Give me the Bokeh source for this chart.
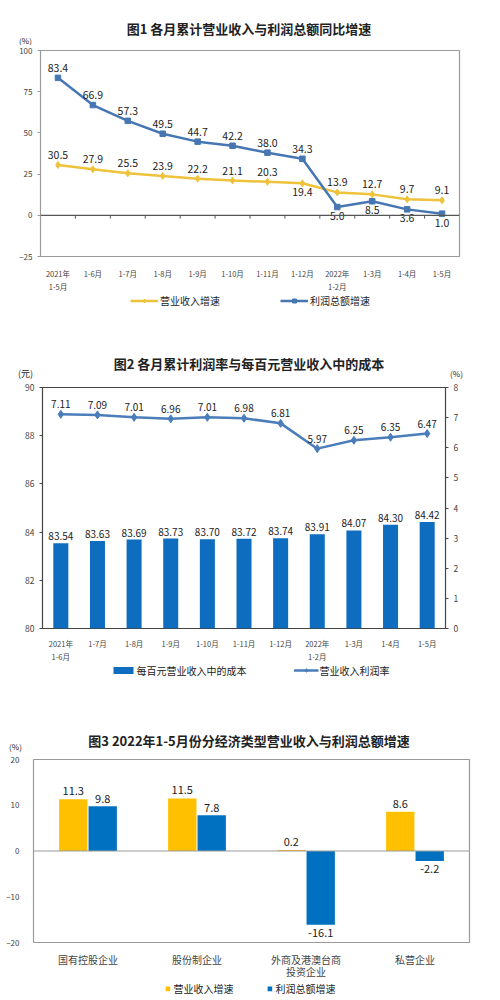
from bokeh.plotting import figure
from bokeh.models import (ColumnDataSource, Range1d, LinearAxis, FixedTicker,
                          Legend, LegendItem, Label, Span)
from bokeh.embed import file_html
from bokeh.resources import INLINE
from bokeh.core.properties import value

FONT = "Noto Sans CJK SC"

# ---------------- data ----------------
f1_periods = ["2021年\n1-5月", "1-6月", "1-7月", "1-8月", "1-9月", "1-10月", "1-11月",
              "1-12月", "2022年\n1-2月", "1-3月", "1-4月", "1-5月"]
f1_revenue = [30.5, 27.9, 25.5, 23.9, 22.2, 21.1, 20.3, 19.4, 13.9, 12.7, 9.7, 9.1]
f1_profit = [83.4, 66.9, 57.3, 49.5, 44.7, 42.2, 38.0, 34.3, 5.0, 8.5, 3.6, 1.0]
f1_yticks = [-25, 0, 25, 50, 75, 100]

f2_periods = ["2021年\n1-6月", "1-7月", "1-8月", "1-9月", "1-10月", "1-11月", "1-12月",
              "2022年\n1-2月", "1-3月", "1-4月", "1-5月"]
f2_cost = [83.54, 83.63, 83.69, 83.73, 83.70, 83.72, 83.74, 83.91, 84.07, 84.30, 84.42]
f2_margin = [7.11, 7.09, 7.01, 6.96, 7.01, 6.98, 6.81, 5.97, 6.25, 6.35, 6.47]
f2_left_ticks = [80, 82, 84, 86, 88, 90]
f2_right_ticks = [0, 1, 2, 3, 4, 5, 6, 7, 8]

f3_types = ["国有控股企业", "股份制企业", "外商及港澳台商\n投资企业", "私营企业"]
f3_revenue = [11.3, 11.5, 0.2, 8.6]
f3_profit = [9.8, 7.8, -16.1, -2.2]
f3_yticks = [-20, -10, 0, 10, 20]

titles = ["图1  各月累计营业收入与利润总额同比增速",
          "图2  各月累计利润率与每百元营业收入中的成本",
          "图3  2022年1-5月份分经济类型营业收入与利润总额增速"]

# ---------------- styles ----------------
YEL1 = "#EEC23A"
BLU1 = "#4777B2"
BAR2 = "#0E6DBE"
LIN2 = "#4A7DBA"
YEL3 = "#FFC000"
BLU3 = "#0070C0"
GRID = "#9A9A9A"
TXT = "#222222"
AX = "#444444"
W = 500


def blank_fig(h):
    p = figure(width=W, height=h, min_border=0, min_border_left=0, min_border_right=0,
               min_border_top=0, min_border_bottom=0,
               x_range=Range1d(0, 1), y_range=Range1d(0, 1),
               x_axis_type=None, y_axis_type=None, toolbar_location=None,
               output_backend="svg", background_fill_color="white",
               border_fill_color="white")
    p.outline_line_color = None
    p.xgrid.visible = False
    p.ygrid.visible = False
    return p


def header(h, title, title_y, units):
    p = blank_fig(h)
    p.add_layout(Label(x=W / 2, y=h - title_y, x_units="screen", y_units="screen",
                       text=title, text_font=FONT, text_font_size="13px",
                       text_font_style="bold", text_align="center",
                       text_baseline="middle", text_color=TXT))
    for text, x, y, size in units:
        p.add_layout(Label(x=x, y=h - y, x_units="screen", y_units="screen", text=text,
                           text_font=FONT, text_font_size=size, text_align="center",
                           text_baseline="middle", text_color=TXT))
    return p


def footer(h, items, **kw):
    p = blank_fig(h)
    leg_items = []
    far = [-5]
    for label, kind, color in items:
        rs = []
        if kind in ("line_sq", "line_dia"):
            rs.append(p.line(x=far, y=far, line_color=color, line_width=2.5))
        if kind == "line_sq":
            rs.append(p.scatter(x=far, y=far, marker="square", size=5.5, color=color))
        if kind == "line_dia":
            rs.append(p.scatter(x=far, y=far, marker="diamond", size=7, color=color))
        if kind == "box":
            rs.append(p.vbar(x=far, top=far, bottom=[-6], width=1, fill_color=color,
                             line_color=None))
        leg_items.append(LegendItem(label=label, renderers=rs))
    p.add_layout(Legend(items=leg_items, orientation="horizontal", location="center",
                        border_line_color=None, background_fill_alpha=0,
                        label_text_font=FONT, label_text_font_size="10px",
                        label_text_color=TXT, label_height=12, padding=0, margin=0, **kw))
    return p


def base_fig(h, left, right, top, bottom, xr, yr):
    p = figure(width=W, height=h, min_border_left=left,
               min_border_right=right, min_border_top=top, min_border_bottom=bottom,
               x_range=xr, y_range=yr, toolbar_location=None,
               output_backend="svg", background_fill_color="white",
               border_fill_color="white")
    p.outline_line_color = GRID
    p.outline_line_width = 1.2
    p.xgrid.visible = False
    p.ygrid.visible = False
    for ax in (p.xaxis[0], p.yaxis[0]):
        ax.axis_line_color = None
        ax.major_label_text_font = FONT
        ax.major_label_text_color = AX
        ax.minor_tick_line_color = None
    return p


# ================= Figure 1 =================
n1 = len(f1_periods)
xs1 = [i + 0.5 for i in range(n1)]
h1 = header(45, titles[0], 28, [("(%)", 25, 40, "8px")])
p1 = base_fig(249, 40, 41, 5, 38, Range1d(0, n1), Range1d(f1_yticks[0], f1_yticks[-1]))
p1.yaxis[0].ticker = FixedTicker(ticks=f1_yticks)
p1.yaxis[0].major_label_text_font_size = "8px"
p1.yaxis[0].major_tick_out = 3
p1.yaxis[0].major_tick_in = 0
p1.yaxis[0].major_tick_line_color = GRID
p1.xaxis[0].ticker = FixedTicker(ticks=xs1)
p1.xaxis[0].major_label_overrides = {x: t for x, t in zip(xs1, f1_periods)}
p1.xaxis[0].major_label_text_font_size = "7.5px"
p1.xaxis[0].major_tick_line_color = None
p1.xaxis[0].major_label_standoff = 5

p1.add_layout(Span(location=0, dimension="width", line_color="#555555", line_width=1.2))
bounds = list(range(1, n1))
p1.segment(x0=bounds, y0=[0] * len(bounds), x1=bounds, y1=[-2] * len(bounds),
           line_color="#555555", line_width=1)

s1 = ColumnDataSource(dict(x=xs1, rev=f1_revenue, pro=f1_profit,
                           rev_t=[f"{v:.1f}" for v in f1_revenue],
                           pro_t=[f"{v:.1f}" for v in f1_profit],
                           rev_dy=[5 if i == 7 else -6 for i in range(n1)],
                           rev_bl=["top" if i == 7 else "bottom" for i in range(n1)],
                           pro_dy=[5 if i >= 8 else -6 for i in range(n1)],
                           pro_bl=["top" if i >= 8 else "bottom" for i in range(n1)]))
p1.line("x", "rev", source=s1, line_color=YEL1, line_width=2.5)
p1.scatter("x", "rev", source=s1, marker="diamond", size=7, color=YEL1)
p1.line("x", "pro", source=s1, line_color=BLU1, line_width=2.5)
p1.scatter("x", "pro", source=s1, marker="square", size=5.5, color=BLU1)
p1.text("x", "rev", text="rev_t", source=s1, y_offset="rev_dy", text_baseline="rev_bl",
        text_align="center", text_font=value(FONT), text_font_size="10.5px", text_color=TXT)
p1.text("x", "pro", text="pro_t", source=s1, y_offset="pro_dy", text_baseline="pro_bl",
        text_align="center", text_font=value(FONT), text_font_size="10.5px", text_color=TXT)
ft1 = footer(12, [("营业收入增速", "line_dia", YEL1), ("利润总额增速", "line_sq", BLU1)],
             glyph_width=28, glyph_height=10, spacing=60, label_standoff=2)

# ================= Figure 2 =================
n2 = len(f2_periods)
xs2 = [i + 0.5 for i in range(n2)]
h2 = header(76, titles[1], 57, [("(元)", 25, 67, "9px"), ("(%)", 456, 67, "8px")])
yr2 = Range1d(f2_left_ticks[0], f2_left_ticks[-1])
p2 = base_fig(282, 42, 55, 5, 36, Range1d(0, n2), yr2)
p2.extra_y_ranges = {"pct": Range1d(f2_right_ticks[0], f2_right_ticks[-1])}
p2.yaxis[0].ticker = FixedTicker(ticks=f2_left_ticks)
p2.yaxis[0].major_label_text_font_size = "8.5px"
p2.yaxis[0].major_tick_out = 3
p2.yaxis[0].major_tick_in = 0
p2.yaxis[0].major_tick_line_color = AX
ry = LinearAxis(y_range_name="pct", ticker=FixedTicker(ticks=f2_right_ticks))
ry.axis_line_color = None
ry.major_tick_in = 0
ry.major_tick_out = 3
ry.major_tick_line_color = AX
ry.minor_tick_line_color = None
ry.major_label_text_font = FONT
ry.major_label_text_font_size = "8.5px"
ry.major_label_text_color = AX
p2.add_layout(ry, "right")
p2.xaxis[0].ticker = FixedTicker(ticks=xs2)
p2.xaxis[0].major_label_overrides = {x: t for x, t in zip(xs2, f2_periods)}
p2.xaxis[0].major_label_text_font_size = "7.5px"
p2.xaxis[0].major_tick_line_color = None
p2.xaxis[0].major_label_standoff = 3
p2.outline_line_color = AX

s2 = ColumnDataSource(dict(x=xs2, cost=f2_cost, margin=f2_margin,
                           cost_t=[f"{v:.2f}" for v in f2_cost],
                           margin_t=[f"{v:.2f}" for v in f2_margin]))
p2.vbar(x="x", top="cost", bottom=yr2.start, width=0.41, source=s2,
        fill_color=BAR2, line_color=None)
p2.text("x", "cost", text="cost_t", source=s2, y_offset=-3, text_baseline="bottom",
        text_align="center", text_font=value(FONT), text_font_size="10px", text_color=TXT)
p2.line("x", "margin", source=s2, y_range_name="pct", line_color=LIN2, line_width=2.5)
p2.scatter("x", "margin", source=s2, y_range_name="pct", marker="diamond",
           size=8, color=LIN2)
p2.text("x", "margin", text="margin_t", source=s2, y_range_name="pct", y_offset=-6,
        text_baseline="bottom", text_align="center", text_font=value(FONT),
        text_font_size="10px", text_color=TXT)
ft2 = footer(12, [("每百元营业收入中的成本", "box", BAR2), ("营业收入利润率", "line_dia", LIN2)],
             glyph_width=25, glyph_height=9, spacing=47, label_standoff=1)

# ================= Figure 3 =================
n3 = len(f3_types)
xs3 = [i + 0.5 for i in range(n3)]
h3 = header(80, titles[2], 64, [("(%)", 15, 70, "8px")])
p3 = base_fig(225, 33, 31, 3, 38, Range1d(0, n3), Range1d(f3_yticks[0], f3_yticks[-1]))
p3.yaxis[0].ticker = FixedTicker(ticks=f3_yticks)
p3.yaxis[0].major_label_text_font_size = "8px"
p3.yaxis[0].major_tick_line_color = None
p3.yaxis[0].major_label_standoff = 8
p3.xaxis[0].ticker = FixedTicker(ticks=xs3)
p3.xaxis[0].major_label_overrides = {x: t for x, t in zip(xs3, f3_types)}
p3.xaxis[0].major_label_text_font_size = "10px"
p3.xaxis[0].major_label_text_line_height = 0.8
p3.xaxis[0].major_tick_line_color = None
p3.xaxis[0].major_label_standoff = 3
p3.add_layout(Span(location=0, dimension="width", line_color=GRID, line_width=1))

off = 0.135
s3 = ColumnDataSource(dict(xr=[x - off for x in xs3], xp=[x + off for x in xs3],
                           rev=f3_revenue, pro=f3_profit,
                           rev_t=[f"{v:.1f}" for v in f3_revenue],
                           pro_t=[f"{v:.1f}" for v in f3_profit],
                           pro_dy=[4 if v < 0 else -3 for v in f3_profit],
                           pro_bl=["top" if v < 0 else "bottom" for v in f3_profit]))
p3.vbar(x="xr", top="rev", bottom=0, width=0.26, source=s3, fill_color=YEL3, line_color=None)
p3.vbar(x="xp", top="pro", bottom=0, width=0.26, source=s3, fill_color=BLU3, line_color=None)
p3.text("xr", "rev", text="rev_t", source=s3, y_offset=-4, text_baseline="bottom",
        text_align="center", text_font=value(FONT), text_font_size="11px", text_color=TXT)
p3.text("xp", "pro", text="pro_t", source=s3, y_offset="pro_dy", text_baseline="pro_bl",
        text_align="center", text_font=value(FONT), text_font_size="11px", text_color=TXT)
ft3 = footer(14, [("营业收入增速", "box", YEL3), ("利润总额增速", "box", BLU3)],
             glyph_width=6, glyph_height=6, spacing=33, label_standoff=3)

roots = [h1, p1, ft1, h2, p2, ft2, h3, p3, ft3]
open("out.html", "w").write(file_html(roots, INLINE))
